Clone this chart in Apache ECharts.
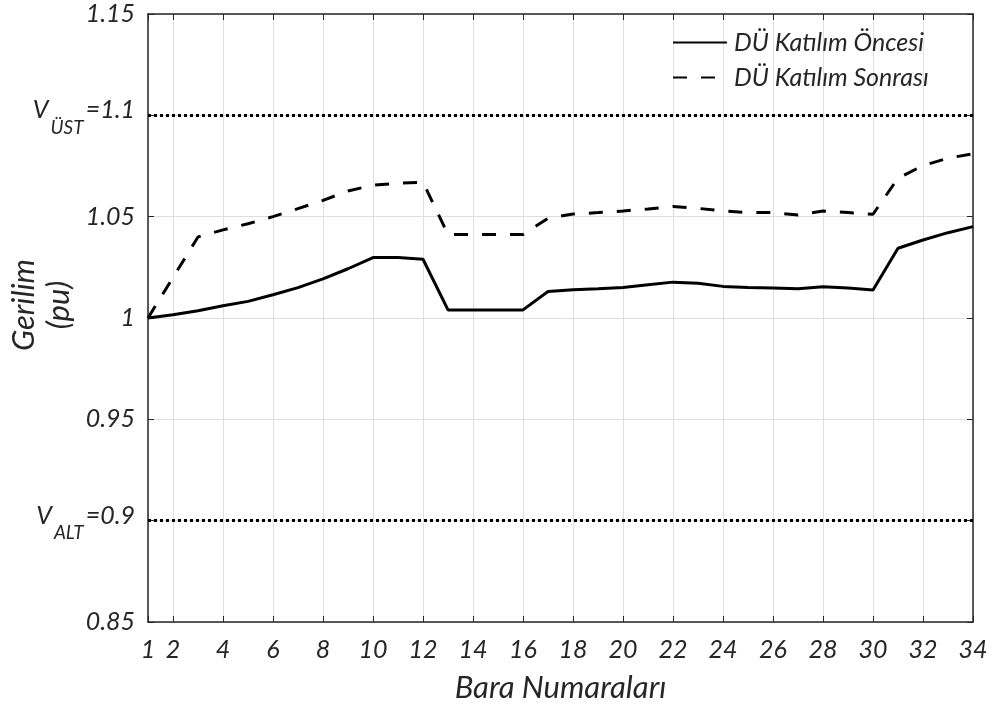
<!DOCTYPE html>
<html>
<head>
<meta charset="utf-8">
<script src="https://cdn.jsdelivr.net/npm/echarts@6/dist/echarts.min.js"></script>
<style>html,body{margin:0;padding:0;background:#fff;}#c{width:993px;height:704px;}</style>
</head>
<body>
<div id="c"></div>
<script>
const buses = [1,2,3,4,5,6,7,8,9,10,11,12,13,14,15,16,17,18,19,20,21,22,23,24,25,26,27,28,29,30,31,32,33,34];
const before = [1.000,1.0016,1.0036,1.006,1.0082,1.0115,1.015,1.0193,1.0243,1.0298,1.0298,1.029,1.004,1.004,1.004,1.004,1.0131,1.0139,1.0144,1.0151,1.0164,1.0177,1.0172,1.0156,1.0151,1.0148,1.0144,1.0154,1.0148,1.0138,1.0344,1.0385,1.0421,1.0451];
const after = [1.000,1.020,1.040,1.0435,1.0465,1.050,1.054,1.058,1.0627,1.0655,1.0665,1.067,1.0412,1.0412,1.0412,1.0412,1.0492,1.0513,1.052,1.0528,1.0538,1.055,1.0541,1.0528,1.052,1.052,1.0508,1.0528,1.052,1.0512,1.069,1.0752,1.0789,1.081];
const seriesNames = ['DÜ Katılım Öncesi', 'DÜ Katılım Sonrası'];
const xTickLabels = [1,2,4,6,8,10,12,14,16,18,20,22,24,26,28,30,32,34];
const yTickLabels = ['0.85', '{v|V}{s|ALT}{v|=0.9}', '0.95', '1', '1.05', '{v|V}{s|ÜST}{v|=1.1}', '1.15'];
const limits = [0.9, 1.1];

const FONT = 'Lato, "Open Sans", sans-serif';
const TXT = '#262626';
const chart = echarts.init(document.getElementById('c'));
const isTick = (idx, val) => xTickLabels.indexOf(Number(val)) >= 0;

chart.setOption({
  animation: false,
  grid: { left: 148, right: 20, top: 14, bottom: 82, containLabel: false, outerBoundsMode: 'none' },
  legend: {
    orient: 'vertical', left: 667, top: 25, itemWidth: 54, itemHeight: 14, itemGap: 10,
    itemStyle: { opacity: 0 },
    textStyle: { fontFamily: FONT, fontStyle: 'italic', fontSize: 25, color: TXT, padding: [0, 0, 0, 2] },
    data: seriesNames
  },
  xAxis: [{
    type: 'category', data: buses, boundaryGap: false,
    name: 'Bara Numaraları', nameLocation: 'middle', nameGap: 50, nameMoveOverlap: false,
    nameTextStyle: { fontFamily: FONT, fontStyle: 'italic', fontSize: 31, color: TXT },
    axisLine: { lineStyle: { color: TXT, width: 1.5 } },
    axisTick: { inside: true, length: 6, interval: isTick, lineStyle: { color: TXT } },
    axisLabel: { interval: isTick, margin: 15, fontFamily: FONT, fontStyle: 'italic', fontSize: 25, color: TXT },
    splitLine: { show: true, interval: isTick, lineStyle: { color: '#dedede', width: 1 } }
  }, {
    type: 'category', data: buses, boundaryGap: false, position: 'top',
    axisLine: { lineStyle: { color: TXT, width: 1.5 } },
    axisTick: { inside: true, length: 6, interval: isTick, lineStyle: { color: TXT } },
    axisLabel: { show: false }, splitLine: { show: false }
  }],
  yAxis: [{
    type: 'value', min: 0.85, max: 1.15, interval: 0.05,
    name: 'Gerilim\n(pu)', nameLocation: 'middle', nameGap: 72, nameRotate: 90, nameMoveOverlap: false,
    nameTextStyle: { fontFamily: FONT, fontStyle: 'italic', fontSize: 31, color: TXT, lineHeight: 35, padding: [0, 0, 0, 26] },
    axisLine: { show: true, lineStyle: { color: TXT, width: 1.5 } },
    axisTick: { show: true, inside: true, length: 6, lineStyle: { color: TXT } },
    axisLabel: {
      margin: 13, fontFamily: FONT, fontStyle: 'italic', fontSize: 25, color: TXT,
      formatter: v => yTickLabels[Math.round((v - 0.85) / 0.05)],
      rich: {
        v: { fontFamily: FONT, fontStyle: 'italic', fontSize: 25, color: TXT, lineHeight: 24, padding: [0, 0, 10, 0] },
        s: { fontFamily: FONT, fontStyle: 'italic', fontSize: 19, color: TXT, lineHeight: 24, padding: [25, 2, 0, 2] }
      }
    },
    splitLine: { show: true, lineStyle: { color: '#dedede', width: 1 } }
  }, {
    type: 'value', min: 0.85, max: 1.15, interval: 0.05, position: 'right',
    axisLine: { show: true, lineStyle: { color: TXT, width: 1.5 } },
    axisTick: { show: true, inside: true, length: 6, lineStyle: { color: TXT } },
    axisLabel: { show: false }, splitLine: { show: false }
  }],
  series: [{
    name: seriesNames[0], type: 'line', data: before, symbol: 'none',
    lineStyle: { color: '#000', width: 3 }, itemStyle: { color: '#000' },
    markLine: {
      silent: true, symbol: ['none', 'none'], label: { show: false },
      lineStyle: { color: '#000', width: 3, type: [3, 3] },
      data: limits.map(l => ({ yAxis: l }))
    }
  }, {
    name: seriesNames[1], type: 'line', data: after, symbol: 'none',
    lineStyle: { color: '#000', width: 3, type: [14, 14] }, itemStyle: { color: '#000' }
  }]
});
</script>
</body>
</html>
